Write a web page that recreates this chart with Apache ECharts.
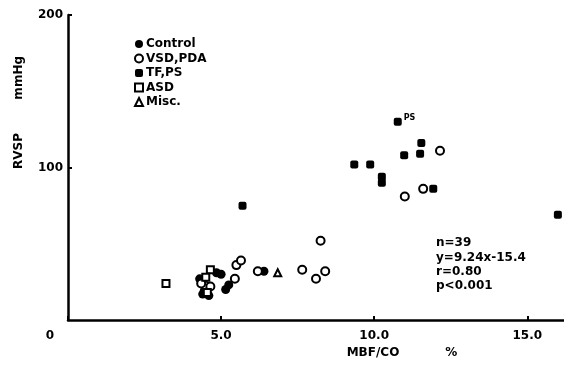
<!DOCTYPE html>
<html>
<head>
<meta charset="utf-8">
<script src="https://cdn.jsdelivr.net/npm/echarts@6/dist/echarts.min.js"></script>
<style>
  html, body { margin: 0; padding: 0; background: #fff; }
  #chart { width: 564px; height: 372px; }
</style>
</head>
<body>
<div id="chart"></div>
<script>
// values: [MBF/CO %, RVSP mmHg]
const control = [[4.3, 27], [4.4, 17], [4.45, 19], [4.6, 16], [4.85, 31], [5.0, 30], [5.15, 20], [5.25, 23], [6.4, 32]];
const vsdPda = [[12.15, 111], [11.6, 86], [11.0, 81], [8.25, 52], [8.4, 32], [8.1, 27], [7.65, 33], [6.2, 32],
  [5.5, 36], [5.65, 39], [5.45, 27], [4.45, 23], [4.65, 22], [4.35, 24]];
const tfPs = [[5.7, 75], [9.35, 102], [9.87, 102], [10.25, 94], [10.25, 90], [10.98, 108], [11.5, 109],
  [11.54, 116], [10.77, 130], [11.93, 86], [16.0, 69]];
const asd = [[3.2, 24], [4.65, 33], [4.5, 28], [4.55, 18]];
const misc = [[6.85, 31]];

const xTicks = { 0: "0", 5: "5.0", 10: "10.0", 15: "15.0" };
const yTicks = { 100: "100", 200: "200" };
const stats = ["n=39", "y=9.24x-15.4", "r=0.80", "p<0.001"];

const font = "DejaVu Sans";
const chart = echarts.init(document.getElementById("chart"));

const filled = { color: "#000", opacity: 1 };
const open = { color: "#fff", borderColor: "#000", borderWidth: 2, opacity: 1 };

chart.setOption({
  backgroundColor: "#fff",
  animation: false,
  textStyle: { fontFamily: font, fontWeight: "bold", color: "#000" },
  grid: { left: 68, right: 0, top: 15, bottom: 52 },
  legend: {
    orient: "vertical",
    left: 129,
    top: 33,
    itemWidth: 8,
    itemHeight: 8,
    itemGap: 2.5,
    textStyle: { fontFamily: font, fontWeight: "bold", fontSize: 12, color: "#000", padding: [0, 0, 0, -2] },
    data: ["Control", "VSD,PDA", "TF,PS", "ASD", "Misc."],
  },
  xAxis: {
    type: "value",
    min: 0,
    max: 16.2,
    interval: 5,
    splitLine: { show: false },
    axisLine: { lineStyle: { color: "#000", width: 2.5 } },
    axisTick: { inside: true, length: 4, lineStyle: { color: "#000", width: 2 } },
    axisLabel: {
      margin: 10,
      fontFamily: font,
      fontWeight: "bold",
      fontSize: 12,
      color: "#000",
      showMaxLabel: false,
      formatter: (v) => (v === 0 ? "{z|0}" : xTicks[v] || ""),
      rich: { z: { fontFamily: font, fontWeight: "bold", fontSize: 12, padding: [0, 36, 0, 0] } },
    },
    name: "MBF/CO           %",
    nameLocation: "middle",
    nameGap: 26,
    nameTextStyle: { fontFamily: font, fontWeight: "bold", fontSize: 12, color: "#000", padding: [0, 0, 0, 172] },
  },
  yAxis: {
    type: "value",
    min: 0,
    max: 200,
    interval: 100,
    splitLine: { show: false },
    axisLine: { lineStyle: { color: "#000", width: 2.5 } },
    axisTick: { inside: true, length: 4, lineStyle: { color: "#000", width: 2 } },
    axisLabel: {
      margin: 5,
      fontFamily: font,
      fontWeight: "bold",
      fontSize: 12,
      color: "#000",
      showMinLabel: false,
      formatter: (v) => yTicks[v] || "",
    },
    name: "RVSP        mmHg",
    nameLocation: "middle",
    nameRotate: 90,
    nameGap: 43,
    nameTextStyle: { fontFamily: font, fontWeight: "bold", fontSize: 12, color: "#000", padding: [0, 0, 0, 110] },
  },
  graphic: [
    {
      type: "text",
      left: 436,
      top: 236,
      style: {
        text: stats.join("\n"),
        font: "bold 12px " + font,
        lineHeight: 14.3,
        fill: "#000",
      },
    },
  ],
  series: [
    { name: "Control", type: "scatter", symbol: "circle", symbolSize: 9, itemStyle: filled, data: control },
    { name: "VSD,PDA", type: "scatter", symbol: "circle", symbolSize: 8, itemStyle: open, data: vsdPda },
    {
      name: "TF,PS",
      type: "scatter",
      symbol: "roundRect",
      symbolSize: 8,
      itemStyle: filled,
      data: tfPs.map((p) =>
        p[0] === 10.77
          ? { value: p, label: { show: true, formatter: "PS", position: "right", offset: [-3, -4], fontSize: 8, fontFamily: font, fontWeight: "bold", color: "#000" } }
          : p
      ),
    },
    { name: "ASD", type: "scatter", symbol: "rect", symbolSize: 7, itemStyle: open, data: asd },
    { name: "Misc.", type: "scatter", symbol: "triangle", symbolSize: 7, itemStyle: open, data: misc },
  ],
});
</script>
</body>
</html>
